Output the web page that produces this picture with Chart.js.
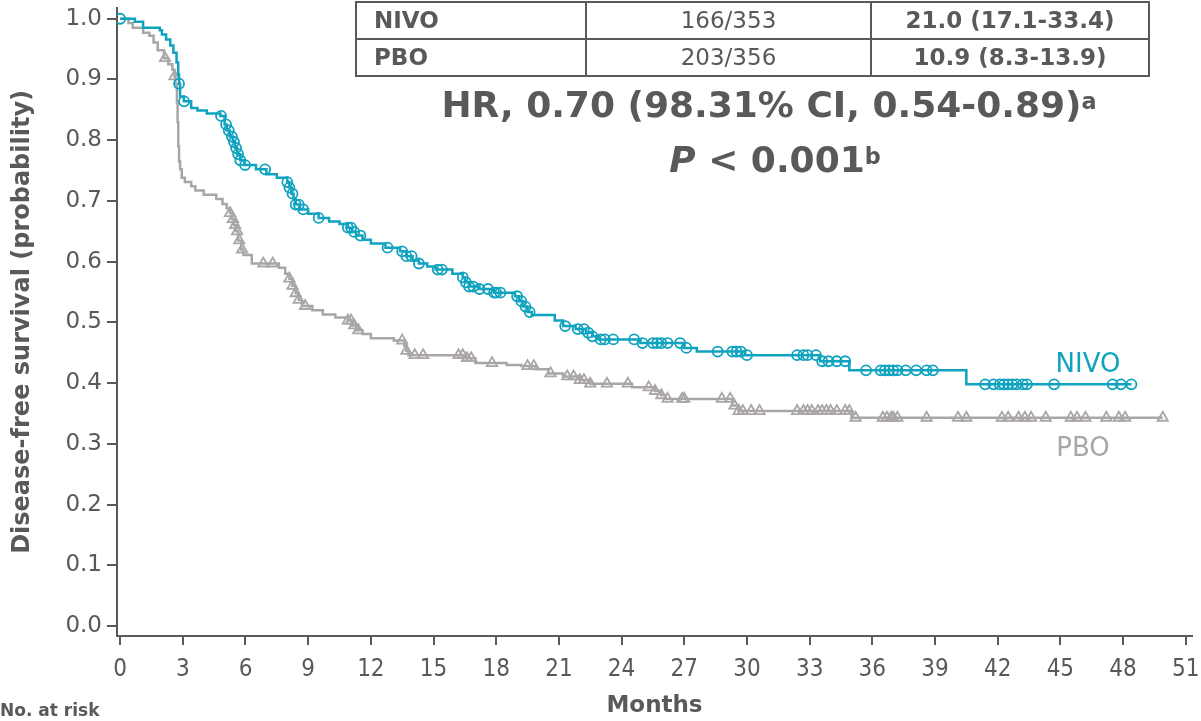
<!DOCTYPE html>
<html>
<head>
<meta charset="utf-8">
<script src="https://cdn.jsdelivr.net/npm/chart.js@4/dist/chart.umd.min.js"></script>
<style>
body{margin:0;background:#fff;}
#wrap{position:relative;width:1201px;height:721px;overflow:hidden;font-family:"DejaVu Sans",sans-serif;color:#58595b;}
#wrap canvas{position:absolute;left:0;top:0;}
.txt{position:absolute;white-space:nowrap;}
table{position:absolute;left:355px;top:1px;border-collapse:collapse;table-layout:fixed;font-size:23px;}
td{border:2px solid #58595b;height:35px;padding:0;line-height:35px;}
td.nm{font-weight:bold;padding-left:17px;}
td.c{text-align:center;}
td.b{font-weight:bold;text-align:center;}
sup{font-size:0.62em;position:relative;top:-0.2em;vertical-align:top;}
</style>
</head>
<body>
<div id="wrap">
<canvas id="km" width="1201" height="721"></canvas>
<table>
<colgroup><col style="width:230px"><col style="width:285px"><col style="width:278px"></colgroup>
<tr><td class="nm">NIVO</td><td class="c">166/353</td><td class="b">21.0 (17.1-33.4)</td></tr>
<tr><td class="nm">PBO</td><td class="c">203/356</td><td class="b">10.9 (8.3-13.9)</td></tr>
</table>
<div class="txt" style="left:419px;width:700px;top:83px;line-height:44px;text-align:center;font-size:36px;font-weight:bold;">HR, 0.70 (98.31% CI, 0.54-0.89)<sup>a</sup></div>
<div class="txt" style="left:425px;width:700px;top:138px;line-height:44px;text-align:center;font-size:36px;font-weight:bold;"><i>P</i> &lt; 0.001<sup>b</sup></div>
<div class="txt" style="left:1038px;width:100px;top:347px;line-height:32px;text-align:center;font-size:26px;color:#0fa3bf;">NIVO</div>
<div class="txt" style="left:1033px;width:100px;top:431px;line-height:32px;text-align:center;font-size:26px;color:#aaa6a6;">PBO</div>
<div class="txt" style="left:0px;top:699px;line-height:22px;font-size:17px;font-weight:bold;">No. at risk</div>
</div>
<script>
// axis ticks
const xTicks = [0,3,6,9,12,15,18,21,24,27,30,33,36,39,42,45,48,51];
const yTicks = [0,0.1,0.2,0.3,0.4,0.5,0.6,0.7,0.8,0.9,1.0];

// NIVO Kaplan-Meier steps (months, survival)
const nivoTime = [0,0.7,1.1,1.9,2.0,2.2,2.4,2.55,2.7,2.78,2.82,2.87,3.05,3.4,3.7,4.15,4.8,5.0,5.1,5.25,5.4,5.5,5.6,5.75,5.95,6.5,7.0,7.5,8.0,8.1,8.2,8.3,8.4,8.6,9.0,9.5,10.0,10.5,10.9,11.1,11.3,11.6,12.0,12.7,13.4,13.7,14.0,14.3,14.7,15.1,15.9,16.4,16.5,16.7,17.2,17.9,18.9,19.1,19.3,19.5,19.7,20.8,21.2,21.8,22.3,22.6,22.9,24.9,27.0,27.6,29.9,33.5,34.9,40.5,48.4];
const nivoSurv = [1.000,0.995,0.985,0.981,0.974,0.966,0.956,0.944,0.928,0.908,0.893,0.872,0.864,0.853,0.849,0.844,0.840,0.826,0.816,0.806,0.797,0.787,0.777,0.767,0.759,0.752,0.744,0.738,0.731,0.722,0.712,0.703,0.694,0.686,0.679,0.672,0.666,0.662,0.656,0.649,0.643,0.636,0.630,0.623,0.617,0.609,0.602,0.597,0.592,0.587,0.580,0.574,0.566,0.559,0.555,0.549,0.543,0.535,0.526,0.517,0.512,0.503,0.494,0.489,0.483,0.477,0.472,0.466,0.458,0.452,0.446,0.436,0.421,0.398,0.398];
// NIVO censored times
const nivoCens = [0,2.82,3.06,4.83,5.07,5.2,5.35,5.45,5.55,5.65,5.75,5.98,6.94,8.0,8.1,8.25,8.4,8.55,8.76,9.5,10.9,11.05,11.2,11.5,12.8,13.5,13.7,13.95,14.3,15.2,15.4,16.4,16.55,16.7,16.9,17.2,17.6,17.9,18.0,18.2,19.0,19.2,19.4,19.6,21.3,21.9,22.2,22.4,22.6,23.0,23.2,23.6,24.6,25.0,25.5,25.7,25.9,26.2,26.8,27.1,28.6,29.3,29.5,29.7,30.0,32.4,32.7,32.9,33.3,33.6,33.9,34.3,34.7,35.7,36.4,36.6,36.8,37.0,37.2,37.6,38.1,38.6,38.9,41.4,41.8,42.1,42.3,42.5,42.7,42.9,43.2,43.4,44.7,47.5,47.9,48.4];

// PBO Kaplan-Meier steps (months, survival)
const pboTime = [0,0.4,0.6,1.1,1.4,1.6,1.8,2.1,2.3,2.5,2.6,2.65,2.72,2.75,2.78,2.82,2.87,2.95,3.1,3.4,3.6,4.0,4.6,4.9,5.1,5.25,5.35,5.45,5.55,5.65,5.8,5.9,6.3,7.6,7.9,8.1,8.25,8.4,8.55,8.7,9.2,9.7,10.3,10.9,11.1,11.3,11.6,12.0,13.1,13.6,13.7,13.8,16.5,17.0,18.5,19.2,19.9,20.5,21.2,22.0,22.5,24.5,25.6,25.9,26.1,29.3,29.6,35.0,49.9];
const pboSurv = [1.000,0.993,0.985,0.977,0.972,0.961,0.948,0.935,0.925,0.916,0.905,0.892,0.862,0.830,0.790,0.765,0.752,0.738,0.731,0.724,0.717,0.710,0.703,0.695,0.688,0.680,0.670,0.660,0.650,0.635,0.620,0.611,0.597,0.590,0.580,0.572,0.560,0.548,0.537,0.527,0.520,0.513,0.508,0.503,0.495,0.487,0.481,0.474,0.470,0.462,0.453,0.446,0.441,0.433,0.430,0.428,0.423,0.416,0.411,0.405,0.399,0.393,0.387,0.380,0.374,0.363,0.354,0.343,0.343];
// PBO censored times
const pboCens = [2.15,2.6,5.26,5.4,5.5,5.6,5.7,5.84,6.85,7.3,8.1,8.25,8.4,8.55,8.85,10.9,11.05,11.2,11.4,13.5,13.7,14.1,14.5,16.2,16.4,16.6,16.8,17.8,19.5,19.8,20.6,21.4,21.7,22.0,22.2,22.5,23.3,24.3,25.3,25.6,25.9,26.2,26.9,27.0,28.8,29.2,29.4,29.6,29.8,30.2,30.6,32.4,32.7,32.9,33.1,33.4,33.6,33.8,34.0,34.3,34.7,34.9,35.2,36.5,36.7,36.9,37.0,37.2,38.6,40.1,40.5,42.2,42.5,43.0,43.3,43.6,44.3,45.5,45.8,46.2,47.2,47.8,48.1,49.9];

const nivoColor = '#0fa3bf';
const pboColor = '#aaa6a6';
const inkColor = '#58595b';

// survival value of a step curve at time t
function survAt(times, surv, t){
    let s = surv[0];
    for(let i=0;i<times.length;i++){ if(times[i] <= t) s = surv[i]; }
    return s;
}

function curvePoints(times, surv){ return times.map((t,i)=>({x:t, y:surv[i]})); }
function censPoints(cens, times, surv){ return cens.map(t=>({x:t, y:survAt(times, surv, t)})); }

const ctx = document.getElementById('km').getContext('2d');
const chart = new Chart(ctx, {
    type: 'line',
    data: {
        datasets: [
            { label:'NIVO censored', data: censPoints(nivoCens, nivoTime, nivoSurv), showLine:false, pointStyle:'circle', pointRadius:5, pointBorderWidth:1.8, pointBorderColor:nivoColor, pointBackgroundColor:'rgba(0,0,0,0)' },
            { label:'NIVO', data: curvePoints(nivoTime, nivoSurv), stepped:true, borderColor:nivoColor, borderWidth:2.5, pointRadius:0, fill:false },
            { label:'PBO censored', data: censPoints(pboCens, pboTime, pboSurv), showLine:false, pointStyle:'triangle', pointRadius:6, pointBorderWidth:1.8, pointBorderColor:pboColor, pointBackgroundColor:'rgba(0,0,0,0)' },
            { label:'PBO', data: curvePoints(pboTime, pboSurv), stepped:true, borderColor:pboColor, borderWidth:2.5, pointRadius:0, fill:false }
        ]
    },
    options: {
        responsive:false,
        animation:false,
        layout:{ padding:{ top:5, right:9, left:0, bottom:0 } },
        plugins:{ legend:{display:false}, tooltip:{enabled:false} },
        scales:{
            x:{
                type:'linear', min:-0.15, max:51.3,
                afterBuildTicks: s => { s.ticks = xTicks.map(v=>({value:v})); },
                afterFit: s => { s.height = 85; s.paddingLeft = 0; s.paddingRight = 0; },
                ticks:{ color:inkColor, font:{family:'"DejaVu Sans Condensed", "DejaVu Sans"', size:24}, padding:10, maxRotation:0, autoSkip:false, callback:v=>String(v) },
                grid:{ drawOnChartArea:false, drawTicks:true, tickLength:9, color:inkColor, lineWidth:2 },
                border:{ color:inkColor, width:2 },
                title:{ display:true, text:'Months', color:inkColor, font:{family:'DejaVu Sans', size:23, weight:'bold'}, padding:{top:0, bottom:1} }
            },
            y:{
                type:'linear', min:-0.0164, max:1.018,
                afterBuildTicks: s => { s.ticks = yTicks.map(v=>({value:v})); },
                afterFit: s => { s.width = 117; s.paddingTop = 0; s.paddingBottom = 0; },
                ticks:{ color:inkColor, font:{family:'DejaVu Sans', size:23}, padding:5, callback:v=>v.toFixed(1) },
                grid:{ drawOnChartArea:false, drawTicks:true, tickLength:10, color:inkColor, lineWidth:2 },
                border:{ color:inkColor, width:2 },
                title:{ display:true, text:'Disease-free survival (probability)', color:inkColor, font:{family:'DejaVu Sans', size:24, weight:'bold'}, padding:{top:8, bottom:0} }
            }
        }
    }
});
</script>
</body>
</html>
